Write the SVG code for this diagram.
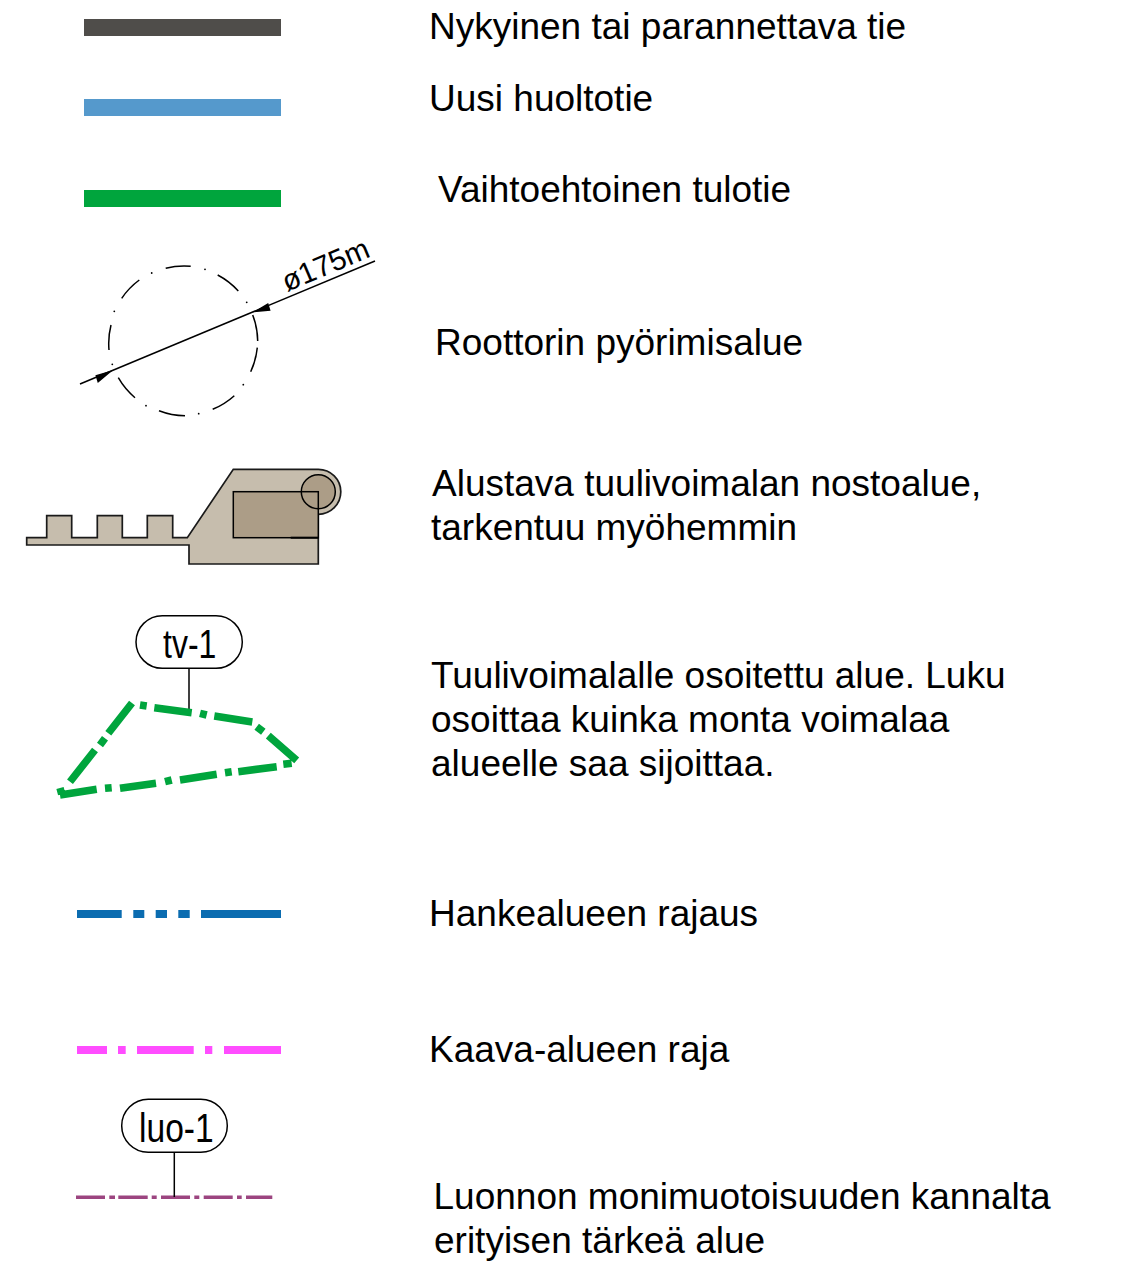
<svg xmlns="http://www.w3.org/2000/svg" width="1124" height="1263" viewBox="0 0 1124 1263">
<style>
text{font-family:"Liberation Sans",Arial,sans-serif;fill:#000}
.t{font-size:37px}
.k{stroke:#000;fill:none}
.pill{fill:#fff;stroke:#000;stroke-width:1.5}
</style>
<rect width="1124" height="1263" fill="#fff"/>
<g id="connectors">
<rect x="84" y="19" width="197" height="17" fill="#4f4d4a"/>
<rect x="84" y="99" width="197" height="17" fill="#5599cc"/>
<rect x="84" y="190" width="197" height="17" fill="#00a53d"/>
<path d="M77 914H121.700M133.300 914H144.300M155.700 914H167M178.300 914H189.700M201 914H281" fill="none" stroke="#0b6cb0" stroke-width="8"/>
<path d="M77 1050H107M118 1050H125.700M137 1050H193.700M205 1050H212.300M224 1050H281" fill="none" stroke="#ff4dff" stroke-width="8"/>
<path d="M76 1197.300H105M109.300 1197.300H115M118.300 1197.300H147.700M151.700 1197.300H156.700M161 1197.300H190M194.300 1197.300H199.300M203.700 1197.300H232.700M237 1197.300H241.700M246 1197.300H272.300" fill="none" stroke="#9c4580" stroke-width="3.500"/>
</g>
<g id="rotor">
<path class="k" stroke-width="1.500" d="M109 350A75 75 0 0 1 111 325M121.700 298.300A75 75 0 0 1 139.300 280M165.700 268.300A75 75 0 0 1 190.700 266.300M217.700 275A75 75 0 0 1 238.300 291M252.700 315A75 75 0 0 1 257.700 341M257.300 347.700A75 75 0 0 1 250.700 371.700M234.300 395.700A75 75 0 0 1 212.700 409.300M185 415.700A75 75 0 0 1 159 410.700M135 397.700A75 75 0 0 1 118.300 377.700"/>
<g fill="#000"><circle cx="151.700" cy="273" r=".9"/><circle cx="205" cy="269.300" r=".9"/><circle cx="246.700" cy="302.300" r=".9"/><circle cx="243.300" cy="384.700" r=".9"/><circle cx="198.700" cy="413.700" r=".9"/><circle cx="146" cy="405.700" r=".9"/><circle cx="112.300" cy="364.300" r=".9"/><circle cx="114.300" cy="311.300" r=".9"/></g>
<path class="k" stroke-width="1.500" d="M80 384L375 261"/>
<path fill="#000" d="M113.300 370L97.800 382.900L95.400 375.300ZM252.700 312.300L268.200 303.100L270.600 310.700Z"/>
<text transform="translate(287 292) rotate(-23)" font-size="29.500">ø175m</text>
</g>
<g id="crane-pad">
<path fill="#c6bdad" stroke="#1a1a1a" stroke-width="1.700" d="M26.700 537.700H46.700V515.700H71.700V537.700H97.300V515.700H122.300V537.700H147.300V515.700H172.700V537.700H187.300L233.300 469.300H318.300A22.500 22.500 0 0 1 318.300 514.300V564H189V545H26.700Z"/>
<circle cx="318.300" cy="491.700" r="17" fill="#ac9d87"/>
<rect x="233.300" y="491.700" width="85" height="46" fill="#ac9d87" stroke="#000" stroke-width="1.500"/>
<path class="k" stroke-width="1.500" d="M301.300 491.700A17 17 0 1 1 318.300 508.700A17 17 0 0 1 301.300 491.700"/>
<path class="k" stroke-width="2" d="M290.700 537.700H318.300"/>
</g>
<g id="tv-area">
<path d="M189 668V712" class="k" stroke-width="1.500" stroke="#222"/>
<rect class="pill" x="136" y="615.700" width="106.300" height="52.600" rx="26.300"/>
<text transform="translate(163 657.700) scale(.8 1)" font-size="40">tv-1</text>
<path fill="none" stroke="#00a53d" stroke-width="7.500" d="M140 705L146.700 706M154.300 707.700L191.700 712.700M200 713.300L206.700 715M214.300 716L252.300 722M256.700 726.700L263.300 731.700M268.300 735.700L296.700 760.300M291.700 763.300L283.300 764.300M276.700 766.700L238.300 771.700M231.700 771.700L225 772.700M216.700 774.300L180 780M171.700 780L165 781.700M156 783.300L120 788.300M111.700 787.700L105 788.300M96.700 789.300L60 795M61.700 794.300L60 788M70 781.700L95 750M100 745L105 738.300M108.300 733.300L132 703"/>
</g>
<g id="luo-area">
<path d="M174.300 1152V1197" class="k" stroke-width="1.500"/>
<rect class="pill" x="121.700" y="1099.300" width="105.600" height="53" rx="26.500"/>
<text transform="translate(139 1141.700) scale(.84 1)" font-size="40">luo-1</text>
</g>
<g id="labels">
<text class="t" x="429" y="39">Nykyinen tai parannettava tie</text>
<text class="t" x="429" y="111">Uusi huoltotie</text>
<text class="t" x="438" y="202">Vaihtoehtoinen tulotie</text>
<text class="t" x="435" y="355">Roottorin pyörimisalue</text>
<text class="t" x="432" y="496">Alustava tuulivoimalan nostoalue,</text>
<text class="t" x="431" y="540">tarkentuu myöhemmin</text>
<text class="t" x="431" y="688">Tuulivoimalalle osoitettu alue. Luku</text>
<text class="t" x="431" y="732">osoittaa kuinka monta voimalaa</text>
<text class="t" x="431" y="776">alueelle saa sijoittaa.</text>
<text class="t" x="429" y="926">Hankealueen rajaus</text>
<text class="t" x="429" y="1062">Kaava-alueen raja</text>
<text class="t" x="433.500" y="1209">Luonnon monimuotoisuuden kannalta</text>
<text class="t" x="434" y="1253">erityisen tärkeä alue</text>
</g>
</svg>
